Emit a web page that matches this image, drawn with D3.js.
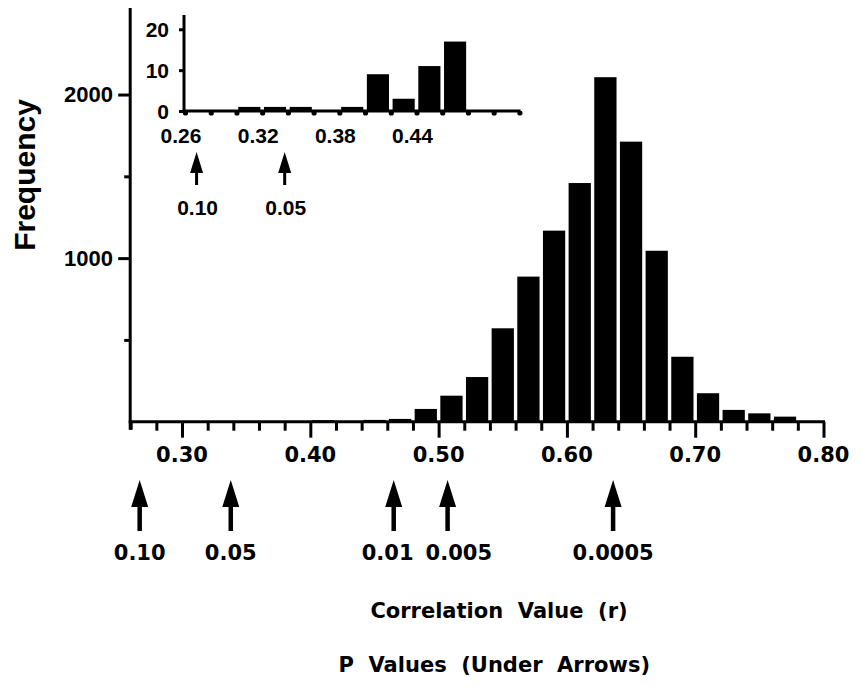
<!DOCTYPE html>
<html><head><meta charset="utf-8">
<script src="https://cdn.jsdelivr.net/npm/d3@7"></script>
<style>body{margin:0;background:#fff}</style>
</head><body>
<svg id="c" width="863" height="691"></svg>
<script>
// ---- data ----
const binStarts = [0.26,0.28,0.30,0.32,0.34,0.36,0.38,0.40,0.42,0.44,0.46,0.48,0.50,0.52,0.54,0.56,0.58,0.60,0.62,0.64,0.66,0.68,0.70,0.72,0.74,0.76,0.78];
const mainCounts = [0,0,1,1,1,0,1,9,3,11,17,78,159,273,571,887,1168,1459,2106,1712,1045,397,174,72,51,31,5];
const binWidth = 0.02;
const mainXTickLabels = [0.30,0.40,0.50,0.60,0.70,0.80];
const mainYTickLabels = [1000,2000];
const mainYMinorTicks = [500,1500];
const insetBinStarts = [0.26,0.28,0.30,0.32,0.34,0.36,0.38,0.40,0.42,0.44,0.46,0.48,0.50];
const insetCounts = [0,0,1,1,1,0,1,9,3,11,17,0,0];
const insetXTickLabels = [0.26,0.32,0.38,0.44];
const insetYTickLabels = [0,10,20];
const pLabels = ["0.10","0.05","0.01","0.005","0.0005"];
const pCriticalR = [0.267,0.338,0.465,0.507,0.636];
const insetPLabels = ["0.10","0.05"];
const insetPCriticalR = [0.269,0.3375];
const xTitle = "Correlation  Value  (r)";
const pTitle = "P  Values  (Under  Arrows)";
const yTitle = "Frequency";

const svg = d3.select("#c");
const helv = "'Liberation Sans', Arial, sans-serif";
const geo = "'DejaVu Sans', sans-serif";

// ---- main scales ----
const x = d3.scaleLinear().domain([0.26, 0.80]).range([130.7, 823.5]);
const y = d3.scaleLinear().domain([0, 2529]).range([421.7, 8]);

// bars
const pad = 1.7;
svg.append("g").selectAll("rect")
  .data(binStarts.map((b,i)=>({b, v: mainCounts[i]})).filter(d=>d.v>0))
  .join("rect")
  .attr("x", d=>x(d.b)+pad)
  .attr("width", d=>x(d.b+binWidth)-x(d.b)-2*pad)
  .attr("y", d=>y(d.v))
  .attr("height", d=>y(0)-y(d.v))
  .attr("fill","#000");

// x axis
const allXTicks = d3.range(0, 28).map(i => +(0.26 + i*0.02).toFixed(2));
const xAxisG = svg.append("g").attr("transform", `translate(0,${y(0)})`);
xAxisG.call(d3.axisBottom(x).tickValues(allXTicks).tickSizeOuter(0)
  .tickSize(9).tickFormat(""));
xAxisG.select(".domain").attr("stroke-width",3).attr("d", `M${x(0.26)-2},0H${x(0.80)+1.5}`);
xAxisG.selectAll(".tick line").attr("stroke-width",3)
  .attr("y2", d => mainXTickLabels.some(t=>Math.abs(t-d)<1e-6) ? 16 : 9);
xAxisG.selectAll(".tick").filter(d=>Math.abs(d-0.26)<1e-6).select("line").attr("y2", 8);
svg.append("g").selectAll("text").data(mainXTickLabels).join("text")
  .attr("x", d=>x(d)).attr("y", 462)
  .attr("text-anchor","middle").attr("font-family",geo).attr("font-weight","bold")
  .attr("font-size",21).text(d=>d.toFixed(2));

// y axis
const yAxisG = svg.append("g").attr("transform", `translate(${x(0.26)-0.5},0)`);
yAxisG.call(d3.axisLeft(y).tickValues(mainYTickLabels.concat(mainYMinorTicks)).tickSize(12).tickSizeOuter(0).tickFormat(""));
yAxisG.select(".domain").attr("stroke-width",3).attr("d", `M0,${y.range()[1]}V${y(0)+8}`);
yAxisG.selectAll(".tick line").attr("stroke-width",3)
  .attr("x2", d => mainYTickLabels.includes(d) ? -12 : -6);
svg.append("g").selectAll("text").data(mainYTickLabels).join("text")
  .attr("x", 113).attr("y", d=>y(d)).attr("dy","0.36em")
  .attr("text-anchor","end").attr("font-family",helv).attr("font-weight","bold")
  .attr("font-size",22).text(d=>d);

// y title
svg.append("text").attr("transform","translate(35,175) rotate(-90)")
  .attr("text-anchor","middle").attr("font-family",helv).attr("font-weight","bold")
  .attr("font-size",30).text(yTitle);

// arrows (main)
function arrow(g, cx, tip, headBottom, bottom, headW, shaftW){
  g.append("path").attr("d",
    `M${cx},${tip}L${cx+headW/2},${headBottom}L${cx+shaftW/2},${headBottom}L${cx+shaftW/2},${bottom}L${cx-shaftW/2},${bottom}L${cx-shaftW/2},${headBottom}L${cx-headW/2},${headBottom}Z`)
   .attr("fill","#000");
}
const arrG = svg.append("g");
const pTexts = [];
pCriticalR.forEach((r,i)=>{
  arrow(arrG, x(r), 480, 507, 531, 17, 4.5);
  pTexts.push(arrG.append("text").attr("x", x(r)).attr("y", 560).attr("text-anchor","middle")
    .attr("font-family",geo).attr("font-weight","bold").attr("font-size",21).text(pLabels[i]));
});
// nudge neighbouring labels apart when they collide
for (let i = 1; i < pTexts.length; i++) {
  const a = pTexts[i-1].node().getBBox(), b = pTexts[i].node().getBBox();
  const need = a.x + a.width + 12 - b.x;
  if (need > 0) {
    pTexts[i-1].attr("x", +pTexts[i-1].attr("x") - need*0.35);
    pTexts[i].attr("x", +pTexts[i].attr("x") + need*0.65);
  }
}

// titles
svg.append("text").attr("x",499).attr("y",618).attr("text-anchor","middle")
  .attr("font-family",geo).attr("font-weight","bold").attr("font-size",21)
  .style("white-space","pre").text(xTitle);
svg.append("text").attr("x",650).attr("y",672).attr("text-anchor","end")
  .attr("font-family",geo).attr("font-weight","bold").attr("font-size",21)
  .style("white-space","pre").text(pTitle);

// ---- inset ----
const ix = d3.scaleLinear().domain([0.26, 0.52]).range([185, 519.4]);
const iy = d3.scaleLinear().domain([0, 23.5]).range([111, 15]);
const ig = svg.append("g");
const ipad = 1.8;
ig.append("g").selectAll("rect")
  .data(insetBinStarts.map((b,i)=>({b, v: insetCounts[i]})).filter(d=>d.v>0))
  .join("rect")
  .attr("x", d=>ix(d.b)+ipad)
  .attr("width", d=>ix(d.b+binWidth)-ix(d.b)-2*ipad)
  .attr("y", d=>iy(d.v))
  .attr("height", d=>iy(0)-iy(d.v))
  .attr("fill","#000");
const iXTicks = d3.range(0, 14).map(i => +(0.26 + i*0.02).toFixed(2));
const ixAxis = ig.append("g").attr("transform",`translate(0,${iy(0)})`);
ixAxis.call(d3.axisBottom(ix).tickValues(iXTicks).tickSize(0).tickSizeOuter(0).tickFormat(""));
ixAxis.select(".domain").attr("stroke-width",3).attr("d",`M${ix(0.26)-2},0H${ix(0.52)+1}`);
ixAxis.selectAll(".tick").append("circle").attr("cy",2).attr("r",2.6).attr("fill","#000");
ig.append("g").selectAll("text").data(insetXTickLabels).join("text")
  .attr("x", d=>ix(d)-4).attr("y",143).attr("text-anchor","middle")
  .attr("font-family",helv).attr("font-weight","bold").attr("font-size",21).text(d=>d.toFixed(2));
const iyAxis = ig.append("g").attr("transform",`translate(${ix(0.26)-1},0)`);
iyAxis.call(d3.axisLeft(iy).tickValues(insetYTickLabels).tickSize(5).tickSizeOuter(0).tickFormat(""));
iyAxis.select(".domain").attr("stroke-width",3).attr("d",`M0,${iy.range()[1]}V${iy(0)+1}`);
iyAxis.selectAll(".tick line").attr("stroke-width",3);
ig.append("g").selectAll("text").data(insetYTickLabels).join("text")
  .attr("x",169).attr("y",d=>iy(d)).attr("dy","0.36em").attr("text-anchor","end")
  .attr("font-family",helv).attr("font-weight","bold").attr("font-size",21).text(d=>d);
insetPCriticalR.forEach((r,i)=>{
  arrow(ig, ix(r), 152, 173, 185, 13, 3);
  ig.append("text").attr("x", ix(r)+1).attr("y", 215).attr("text-anchor","middle")
    .attr("font-family",helv).attr("font-weight","bold").attr("font-size",21).text(insetPLabels[i]);
});
svg.selectAll(".domain").attr("stroke","#000");
svg.selectAll(".tick line").attr("stroke","#000");
</script>
</body></html>
